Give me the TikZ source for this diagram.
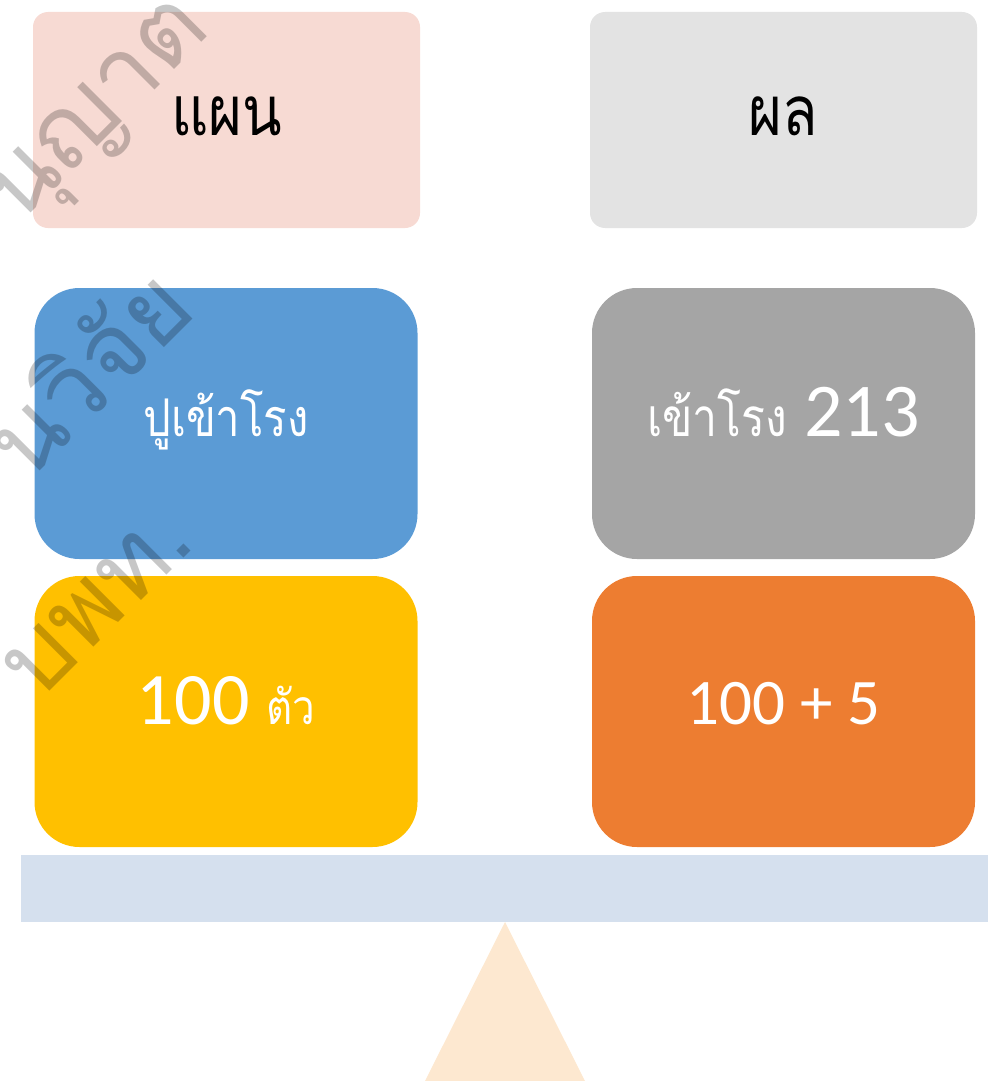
\documentclass[tikz,border=0pt]{standalone}
\usepackage{fontspec}
\setmainfont{Carlito}
\newfontfamily\thaifont[Script=Thai,FakeStretch=0.84]{Loma}
\newfontfamily\stampfont[Script=Thai]{Loma}
\definecolor{planpink}{HTML}{F7DAD3}
\definecolor{resultgray}{HTML}{E3E3E3}
\definecolor{crabblue}{HTML}{5B9BD5}
\definecolor{stonegray}{HTML}{A5A5A5}
\definecolor{goldbox}{HTML}{FFC000}
\definecolor{orangebox}{HTML}{ED7D31}
\definecolor{beamblue}{HTML}{D5E0EE}
\definecolor{pivotpeach}{HTML}{FDE8D0}
\newcommand{\thaisize}[1]{\thaifont\fontsize{#1}{#1}\selectfont}
\begin{document}
\begin{tikzpicture}[
    x=1pt, y=-1pt,
    % Define styles
    header_box/.style={
        rectangle,
        rounded corners=15pt,
        inner sep=0pt,
        minimum width=387pt,
        minimum height=216pt,
        text height=30pt,
        text depth=0pt,
        text=black,
        font=\thaisize{69}
    },
    value_box/.style={
        rectangle,
        rounded corners=45pt,
        inner sep=0pt,
        minimum width=383pt,
        minimum height=271pt,
        text height=25pt,
        text depth=0pt,
        text=white
    },
    stamp_text/.style={
        text=black,
        opacity=0.22,
        rotate=45,
        inner sep=0pt,
        font=\stampfont\fontsize{100}{110}\selectfont
    }
]

    \useasboundingbox (0,0) rectangle (1000,1081);
    \clip (0,0) rectangle (1000,1081);

    % --- Left Column (plan) ---
    \node[header_box, fill=planpink] (plan) at (226.5, 120) {แผน};
    \node[value_box, fill=crabblue] (crabs) at (226, 423.5) {\thaisize{52}ปูเข้าโรง};
    \node[value_box, fill=goldbox, font=\fontsize{74}{74}\selectfont] (count) at (226, 711.5) {100 {\thaisize{48}ตัว}};

    % --- Right Column (result) ---
    \node[header_box, fill=resultgray] (result) at (783.5, 120) {ผล};
    \node[value_box, fill=stonegray, font=\fontsize{76}{76}\selectfont] (entered) at (783.5, 423.5) {{\thaisize{53}เข้าโรง} 213};
    \node[value_box, fill=orangebox, font=\fontsize{65}{65}\selectfont] (total) at (783.5, 711.5) {100 + 5};

    % --- Balance ---
    \fill[beamblue] (21,855) rectangle (988,922);
    \coordinate (apex) at (505,922);
    \fill[pivotpeach] (apex) -- (425,1081) -- (585,1081) -- cycle;

    % Watermark across the left side
    \node[stamp_text] (stamp1) at (105,118) {นุญาต};
    \node[stamp_text] (stamp2) at (85,370) {นวิจัย};
    \node[stamp_text] (stamp3) at (98,604) {บพท.};

\end{tikzpicture}
\end{document}
